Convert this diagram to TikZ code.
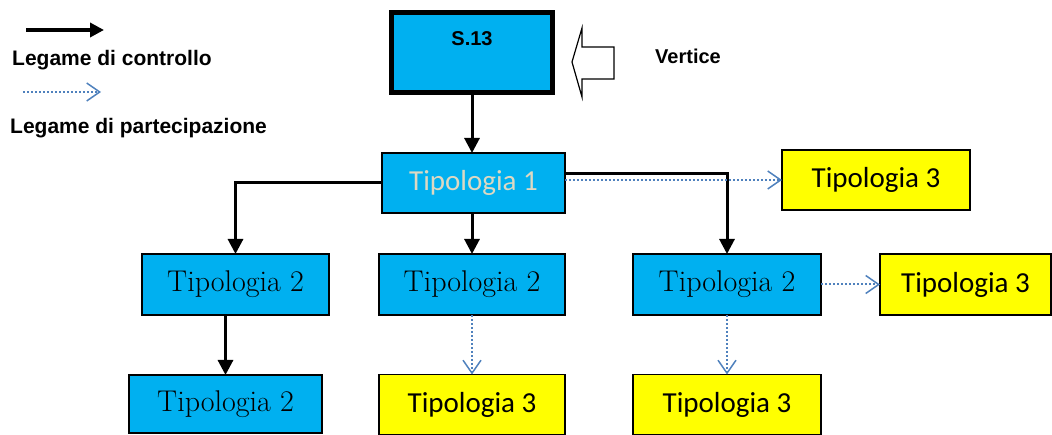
\documentclass[tikz,border=0pt]{standalone}
\usepackage{fontspec}
\newfontfamily\arialf{Liberation Sans}
\newfontfamily\calibf{Carlito}
\usetikzlibrary{arrows.meta}
\definecolor{cyanbox}{HTML}{00B0F0}
\definecolor{yelbox}{HTML}{FFFF00}
\definecolor{dotblue}{HTML}{4F81BD}
\definecolor{lighttext}{HTML}{DDD9C3}
\begin{document}
\begin{tikzpicture}[x=1pt,y=-1pt,
  box/.style={draw=black,line width=1.6pt,inner sep=0pt,outer sep=0pt,minimum height=60pt},
  bluebox/.style={box,fill=cyanbox},
  yelbox/.style={box,fill=yelbox,font=\calibf\fontsize{29}{32}\selectfont,text=black},
  serift/.style={font=\fontsize{30}{34}\selectfont},
  ctrl/.style={line width=3pt,-{Triangle[length=15pt,width=15pt]}},
  part/.style={dotblue,line width=2pt,dash pattern=on 2pt off 2pt,-{Straight Barb[length=13pt,width=18pt,line width=1.5pt]}},
  lab/.style={font=\arialf\bfseries\fontsize{21}{24}\selectfont,inner sep=0pt,anchor=west}
]
\useasboundingbox (0,0) rectangle (1052,435);
% legend
\coordinate (la1) at (26,30);
\coordinate (la2) at (104,30);
\draw[line width=3.5pt,-{Triangle[length=14pt,width=14pt]}] (la1) -- (la2);
\node[lab] (l1) at (12,60) {Legame di controllo};
\coordinate (lb1) at (23,92);
\coordinate (lb2) at (101,92);
\draw[part,line width=1.6pt] (lb1) -- (lb2);
\node[lab] (l2) at (10,128) {Legame di partecipazione};
% vertex
\node[draw=black,line width=5pt,fill=cyanbox,minimum width=161pt,minimum height=80pt,inner sep=0pt] (s13) at (472,52.5) {};
\node[lab,anchor=center,font=\arialf\bfseries\fontsize{20}{24}\selectfont] (s13t) at (472,39) {S.13};
\draw[line width=1.2pt,fill=white] (572,62) -- (582,28) -- (582,47) -- (614,47) -- (614,79) -- (582,79) -- (582,97) -- cycle;
\node[lab,font=\arialf\bfseries\fontsize{20}{24}\selectfont] (vert) at (655,56) {Vertice};
% level 1
\node[bluebox,minimum width=183pt,text=lighttext,font=\calibf\fontsize{29}{32}\selectfont] (t1) at (473.5,183) {Tipologia 1};
\node[yelbox,minimum width=188pt] (t3a) at (876,180) {Tipologia 3};
% level 2
\node[bluebox,minimum width=187pt,minimum height=61pt,serift] (t2a) at (235.5,284.5) {Tipologia 2};
\node[bluebox,minimum width=186pt,minimum height=61pt,serift] (t2b) at (472,284.5) {Tipologia 2};
\node[bluebox,minimum width=188pt,minimum height=61pt,serift] (t2c) at (727,284.5) {Tipologia 2};
\node[yelbox,minimum width=171pt,minimum height=61pt] (t3b) at (965.5,284.5) {Tipologia 3};
% level 3
\node[bluebox,minimum width=193pt,minimum height=58pt,serift] (t2d) at (225.5,404) {Tipologia 2};
\node[yelbox,minimum width=186pt,minimum height=60pt] (t3c) at (472,404.5) {Tipologia 3};
\node[yelbox,minimum width=188pt,minimum height=60pt] (t3d) at (727,404.5) {Tipologia 3};
% connectors
\draw[ctrl] (s13.south) -- (s13.south |- t1.north);
\draw[ctrl] (t1.west) -| (t2a.north);
\draw[ctrl] (t1.south -| t2b.north) -- (t2b.north);
\draw[ctrl] ([yshift=9pt]t1.east) -| (t2c.north);
\draw[ctrl] (t2a.south -| t2d.north) -- (t2d.north);
\draw[part] (t1.east |- t3a.west) -- (t3a.west);
\draw[part] (t2c.east) -- (t2c.east -| t3b.west);
\draw[part] (t2b.south) -- (t3c.north);
\draw[part] (t2c.south) -- (t3d.north);
\end{tikzpicture}
\end{document}
